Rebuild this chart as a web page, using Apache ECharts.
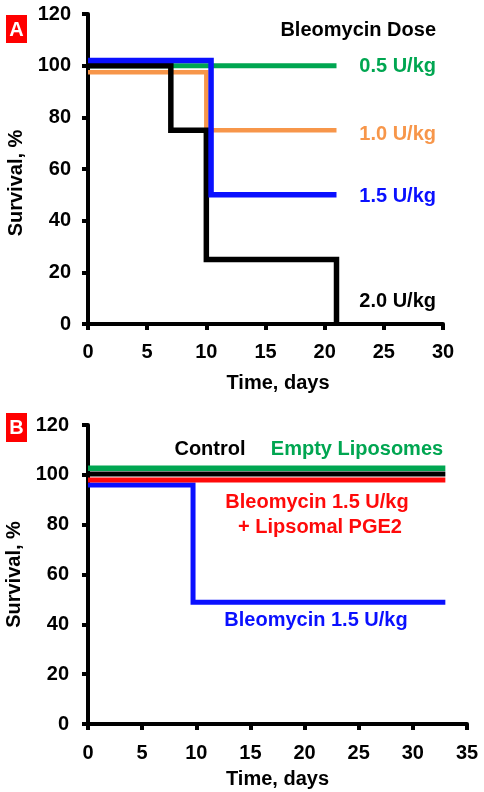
<!DOCTYPE html>
<html>
<head>
<meta charset="utf-8">
<script src="https://cdn.jsdelivr.net/npm/echarts@6/dist/echarts.min.js"></script>
<style>html,body{margin:0;padding:0;background:#fff;}#c{width:484px;height:792px;}</style>
</head>
<body>
<div id="c"></div>
<script>
// Panel A: Bleomycin dose survival (day, survival %)
var doseA05 = [[0, 100], [21, 100]];
var doseA10 = [[0, 97.5], [10, 75], [21, 75]];
var doseA15 = [[0, 102], [10.4, 50], [21, 50]];
var doseA20 = [[0, 100], [7, 75], [10, 25], [21, 0]];
// Panel B
var ctrlB = [[0, 100.3], [33, 100.3]];
var emptyLipB = [[0, 102.6], [33, 102.6]];
var bleoPgeB = [[0, 97.9], [33, 97.9]];
var bleoB = [[0, 95.9], [9.7, 48.9], [33, 48.9]];
var yTicks = [0, 20, 40, 60, 80, 100, 120];
var xTicksA = [0, 5, 10, 15, 20, 25, 30];
var xTicksB = [0, 5, 10, 15, 20, 25, 30, 35];

var FONT = 'Arial, "Liberation Sans", sans-serif';
var GREEN = '#00a651', ORANGE = '#f7964a', BLUE = '#0a10ff', BLACK = '#000000', RED = '#ff0a0a';

function axisCommon() {
  return {
    axisLine: {show: true, lineStyle: {color: '#000', width: 4}},
    axisTick: {show: true, length: 6, lineStyle: {color: '#000', width: 4}},
    splitLine: {show: false},
    axisLabel: {color: '#000', fontFamily: FONT, fontWeight: 'bold', fontSize: 20},
    nameTextStyle: {color: '#000', fontFamily: FONT, fontWeight: 'bold', fontSize: 20}
  };
}
function xAxis(gi, max, pad, gap, margin) {
  var a = axisCommon();
  a.type = 'value'; a.gridIndex = gi; a.min = 0; a.max = max; a.interval = 5;
  a.name = 'Time, days'; a.nameLocation = 'middle'; a.nameGap = gap;
  a.axisLabel.margin = margin;
  a.nameTextStyle.padding = pad;
  return a;
}
function yAxis(gi, pad, margin) {
  var a = axisCommon();
  a.type = 'value'; a.gridIndex = gi; a.min = 0; a.max = 120; a.interval = 20;
  a.name = 'Survival, %'; a.nameLocation = 'middle'; a.nameGap = 58; a.nameRotate = 90;
  a.axisLabel.margin = margin;
  a.nameTextStyle.padding = pad;
  return a;
}
function line(xi, data, color, w, z) {
  return {type: 'line', xAxisIndex: xi, yAxisIndex: xi, data: data, step: 'end', symbol: 'none',
    lineStyle: {color: color, width: w, cap: 'butt', join: 'miter'}, z: z, animation: false, clip: false};
}
function txt(x, y, s, color, align) {
  return {type: 'text', x: x, y: y, style: {text: s, fill: color, font: 'bold 20px ' + FONT,
    textAlign: align || 'center', textVerticalAlign: 'middle'}};
}

var chart = echarts.init(document.getElementById('c'), null, {renderer: 'canvas'});
chart.setOption({
  animation: false,
  backgroundColor: '#fff',
  grid: [
    {left: 88, top: 14, width: 355, height: 310, containLabel: false, outerBoundsMode: 'none'},
    {left: 88, top: 425, width: 379, height: 299, containLabel: false, outerBoundsMode: 'none'}
  ],
  xAxis: [xAxis(0, 30, [0, 0, 0, 25], 49, 18), xAxis(1, 35, [0, 0, 0, 0], 45, 19)],
  yAxis: [yAxis(0, [0, 28, 0, 0], 17), yAxis(1, [0, 0, 0, 0], 19)],
  series: [
    line(0, doseA05, GREEN, 5, 2),
    line(0, doseA10, ORANGE, 4.5, 3),
    line(0, doseA20, BLACK, 5.5, 4),
    line(0, doseA15, BLUE, 5.5, 5),
    line(1, bleoB, BLUE, 5, 2),
    line(1, bleoPgeB, RED, 5, 3),
    line(1, ctrlB, BLACK, 5, 4),
    line(1, emptyLipB, GREEN, 5.5, 5)
  ],
  graphic: [
    {type: 'rect', shape: {x: 6, y: 15, width: 21, height: 28}, style: {fill: '#ff0000'}},
    txt(16.5, 30, 'A', '#fff'),
    {type: 'rect', shape: {x: 6, y: 413, width: 21, height: 29}, style: {fill: '#ff0000'}},
    txt(16.5, 428, 'B', '#fff'),
    txt(436, 30, 'Bleomycin Dose', BLACK, 'right'),
    txt(436, 66, '0.5 U/kg', GREEN, 'right'),
    txt(436, 134, '1.0 U/kg', ORANGE, 'right'),
    txt(436, 196, '1.5 U/kg', BLUE, 'right'),
    txt(436, 301, '2.0 U/kg', BLACK, 'right'),
    txt(210, 449, 'Control', BLACK),
    txt(357, 449, 'Empty Liposomes', GREEN),
    txt(317, 502, 'Bleomycin 1.5 U/kg', RED),
    txt(320, 527, '+ Lipsomal PGE2', RED),
    txt(316, 620, 'Bleomycin 1.5 U/kg', BLUE)
  ]
});
</script>
</body>
</html>
